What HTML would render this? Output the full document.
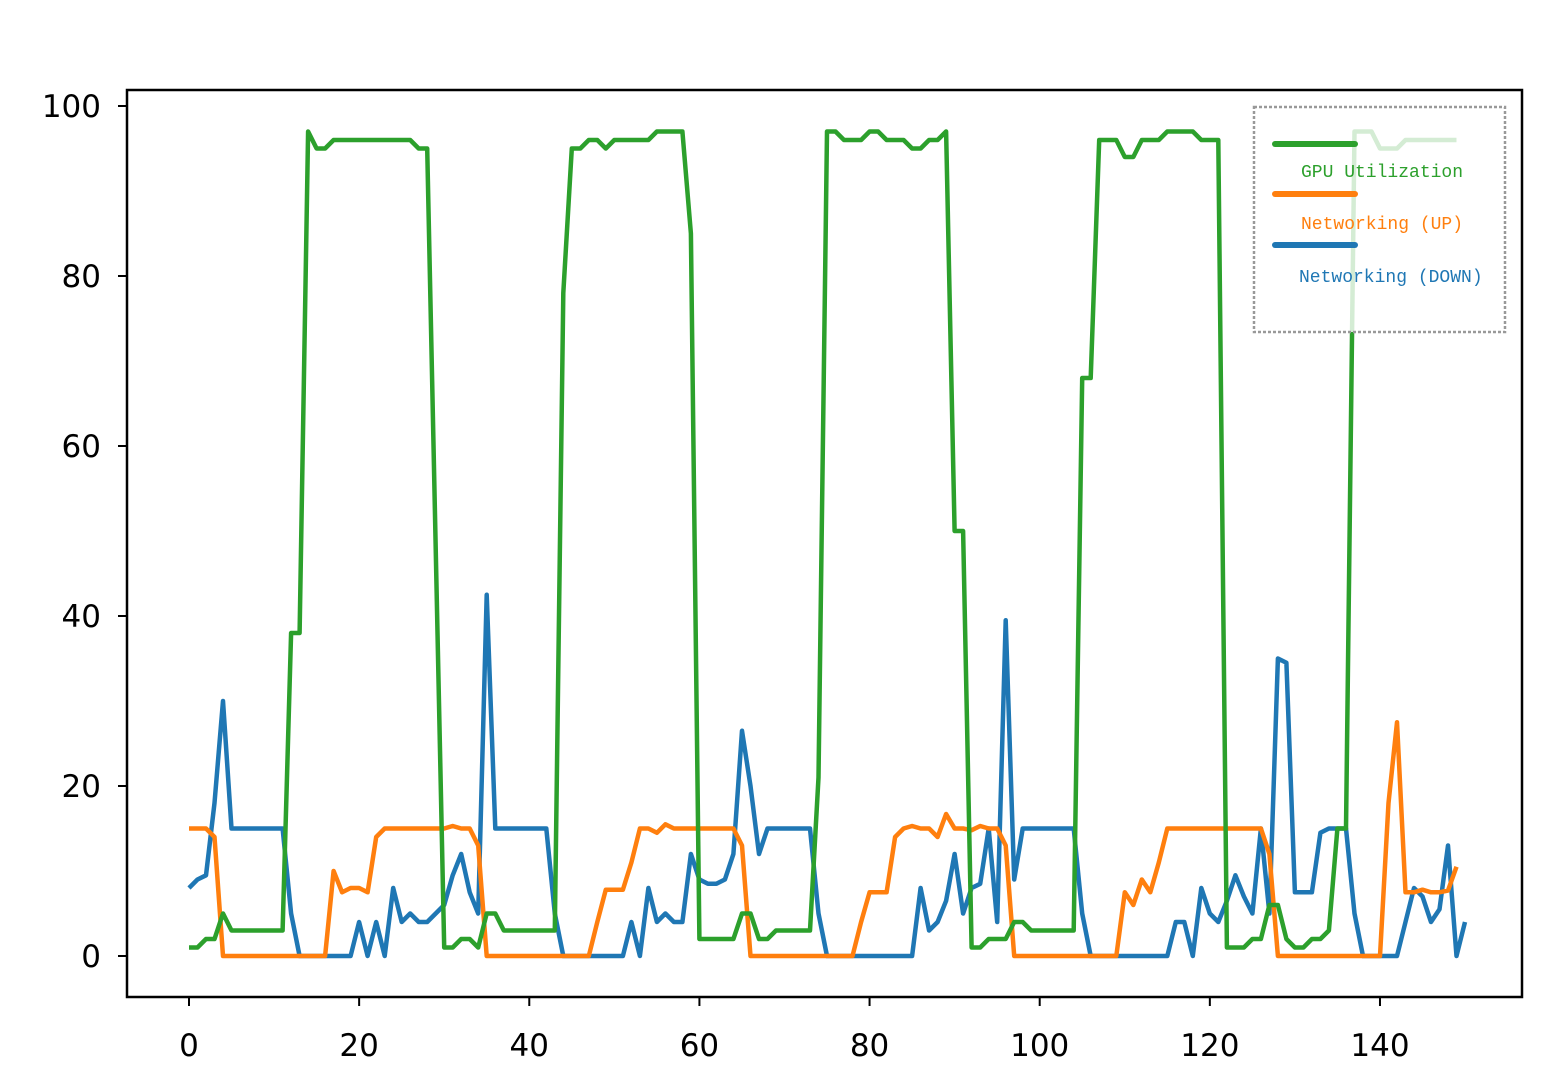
<!DOCTYPE html>
<html><head><meta charset="utf-8"><style>
body{margin:0;background:#fff;}
svg{display:block;}
text{font-family:"DejaVu Sans","Liberation Sans",sans-serif;}
</style></head><body>
<svg id="chart" width="1566" height="1072" xmlns="http://www.w3.org/2000/svg">
<rect width="1566" height="1072" fill="#fff"/>
<g id="series"></g>
<rect x="127" y="90" width="1395" height="907" fill="none" stroke="#000" stroke-width="2.5"/>
<g id="axes"></g>
<g id="legend">
<rect x="1254" y="107" width="251" height="225" fill="#fff" fill-opacity="0.8" stroke="#999" stroke-width="2.5" stroke-dasharray="3,2"/>
<line x1="1275" y1="144" x2="1355" y2="144" stroke="#2ca02c" stroke-width="6" stroke-linecap="round"/>
<text x="1301" y="177" font-size="18" fill="#2ca02c" style="font-family:'Liberation Mono','Noto Serif CJK SC',monospace">GPU Utilization</text>
<line x1="1275" y1="194" x2="1355" y2="194" stroke="#ff7f0e" stroke-width="6" stroke-linecap="round"/>
<text x="1301" y="229" font-size="18" fill="#ff7f0e" style="font-family:'Liberation Mono','Noto Serif CJK SC',monospace">Networking (UP)</text>
<line x1="1275" y1="245" x2="1355" y2="245" stroke="#1f77b4" stroke-width="6" stroke-linecap="round"/>
<text x="1299" y="282" font-size="18" fill="#1f77b4" style="font-family:'Liberation Mono','Noto Serif CJK SC',monospace">Networking (DOWN)</text>
</g>
</svg>
<script>
const gpu=[1,1,2,2,5,3,3,3,3,3,3,3,38,38,97,95,95,96,96,96,96,96,96,96,96,96,96,95,95,48,1,1,2,2,1,5,5,3,3,3,3,3,3,3,78,95,95,96,96,95,96,96,96,96,96,97,97,97,97,85,2,2,2,2,2,5,5,2,2,3,3,3,3,3,21,97,97,96,96,96,97,97,96,96,96,95,95,96,96,97,50,50,1,1,2,2,2,4,4,3,3,3,3,3,3,68,68,96,96,96,94,94,96,96,96,97,97,97,97,96,96,96,1,1,1,2,2,6,6,2,1,1,2,2,3,15,15,97,97,97,95,95,95,96,96,96,96,96,96,96];
const up=[15,15,15,14,0,0,0,0,0,0,0,0,0,0,0,0,0,10,7.5,8,8,7.5,14,15,15,15,15,15,15,15,15,15.3,15,15,13,0,0,0,0,0,0,0,0,0,0,0,0,0,4,7.8,7.8,7.8,11,15,15,14.5,15.5,15,15,15,15,15,15,15,15,13,0,0,0,0,0,0,0,0,0,0,0,0,0,4,7.5,7.5,7.5,14,15,15.3,15,15,14,16.7,15,15,14.8,15.3,15,15,13,0,0,0,0,0,0,0,0,0,0,0,0,0,7.5,6,9,7.5,11,15,15,15,15,15,15,15,15,15,15,15,15,12,0,0,0,0,0,0,0,0,0,0,0,0,0,18,27.5,7.5,7.5,7.8,7.5,7.5,7.7,10.5];
const down=[8,9,9.5,18,30,15,15,15,15,15,15,15,5,0,0,0,0,0,0,0,4,0,4,0,8,4,5,4,4,5,6,9.5,12,7.5,5,42.5,15,15,15,15,15,15,15,5,0,0,0,0,0,0,0,0,4,0,8,4,5,4,4,12,9,8.5,8.5,9,12,26.5,20,12,15,15,15,15,15,15,5,0,0,0,0,0,0,0,0,0,0,0,8,3,4,6.5,12,5,8,8.5,15,4,39.5,9,15,15,15,15,15,15,15,5,0,0,0,0,0,0,0,0,0,0,4,4,0,8,5,4,6.5,9.5,7,5,15,5,35,34.5,7.5,7.5,7.5,14.5,15,15,15,5,0,0,0,0,0,4,8,7,4,5.5,13,0,4];
const xTicks=[0,20,40,60,80,100,120,140];
const yTicks=[0,20,40,60,80,100];
const NS="http://www.w3.org/2000/svg";
const sx=v=>189+v*8.507;
const sy=v=>956-v*8.5;
const sg=document.getElementById('series');
function line(data,color,name){
  const p=document.createElementNS(NS,'polyline');
  p.setAttribute('points',data.map((v,i)=>sx(i).toFixed(1)+','+sy(v).toFixed(1)).join(' '));
  p.setAttribute('fill','none');p.setAttribute('stroke',color);p.setAttribute('stroke-width','4.5');p.setAttribute('stroke-linejoin','round');
  
  
  sg.appendChild(p);
}
line(down,'#1f77b4','networking-down-line');
line(up,'#ff7f0e','networking-up-line');
line(gpu,'#2ca02c','gpu-utilization-line');
const ax=document.getElementById('axes');
xTicks.forEach(t=>{
  const l=document.createElementNS(NS,'line');
  l.setAttribute('x1',sx(t));l.setAttribute('x2',sx(t));l.setAttribute('y1',997);l.setAttribute('y2',1006);l.setAttribute('stroke','#000');l.setAttribute('stroke-width','2');
  
  
  ax.appendChild(l);
  const tx=document.createElementNS(NS,'text');
  tx.setAttribute('x',sx(t));tx.setAttribute('y',1056);tx.setAttribute('text-anchor','middle');tx.setAttribute('font-size','31');
  tx.textContent=t;
  
  
  ax.appendChild(tx);
});
yTicks.forEach(t=>{
  const l=document.createElementNS(NS,'line');
  l.setAttribute('x1',118);l.setAttribute('x2',127);l.setAttribute('y1',sy(t));l.setAttribute('y2',sy(t));l.setAttribute('stroke','#000');l.setAttribute('stroke-width','2');
  
  
  ax.appendChild(l);
  const tx=document.createElementNS(NS,'text');
  tx.setAttribute('x',101);tx.setAttribute('y',sy(t)+11);tx.setAttribute('text-anchor','end');tx.setAttribute('font-size','31');
  tx.textContent=t;
  
  
  ax.appendChild(tx);
});
</script>
</body></html>
